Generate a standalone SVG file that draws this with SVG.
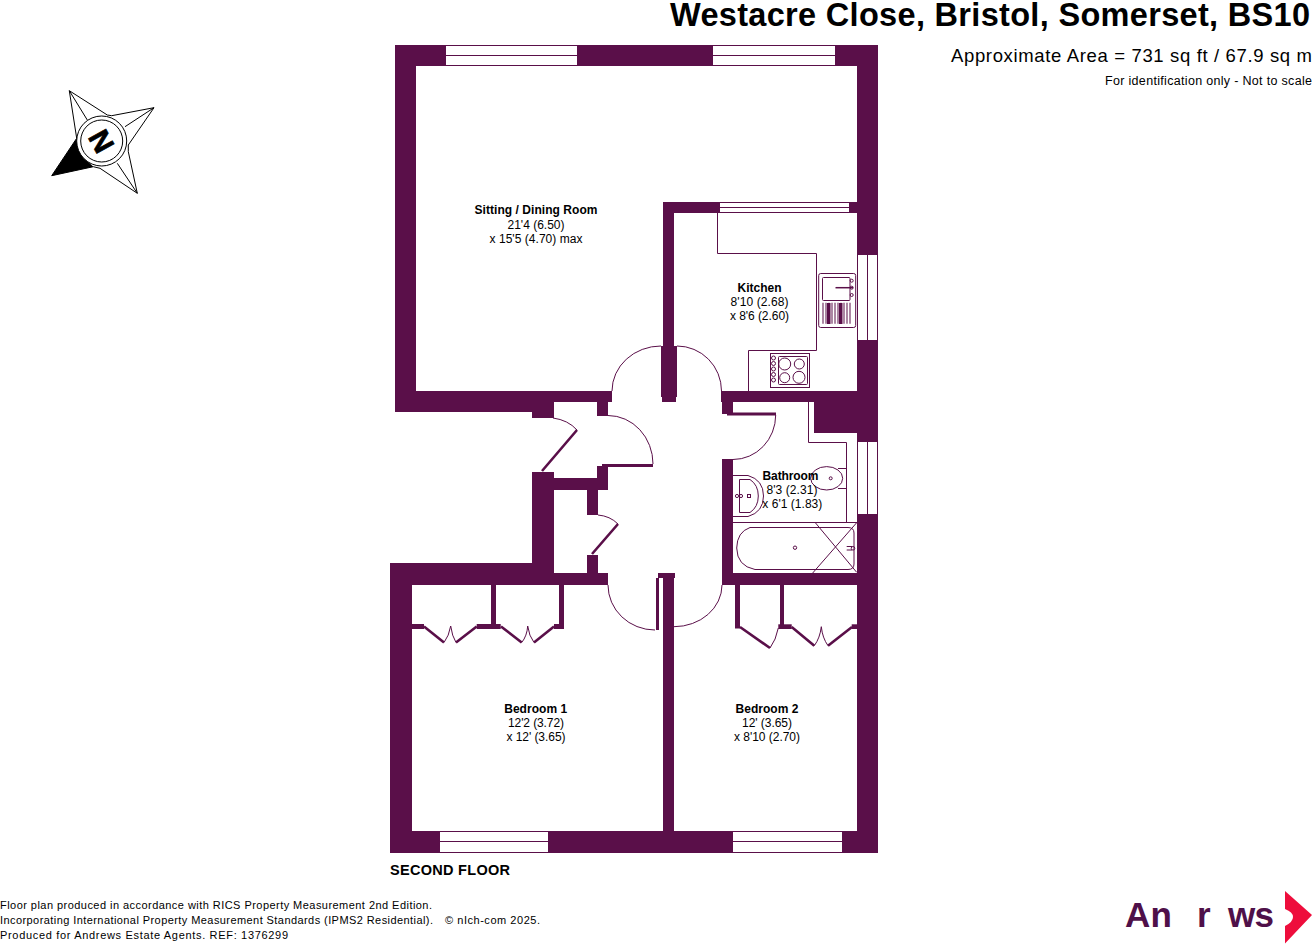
<svg xmlns="http://www.w3.org/2000/svg" width="1313" height="944" viewBox="0 0 1313 944">
<style>
text{font-family:"Liberation Sans",Arial,sans-serif;fill:#000}
.b{font-weight:700}
.r{font-size:12px;text-anchor:middle}
.f{font-size:11px}
.w{fill:#5a0f49;stroke:none}
.l{fill:none;stroke:#5a0f49;stroke-width:1}
.lf{fill:none;stroke:#5a0f49;stroke-width:2.6}
.win{fill:#fff;stroke:none}
.k{fill:#fff;stroke:#000;stroke-width:1}
.logo{font-size:35px;font-weight:700;fill:#4f1049}
</style>
<rect width="1313" height="944" fill="#fff"/>
<g id="header">
<text class="b" x="670" y="26" font-size="32.5" textLength="640">Westacre Close, Bristol, Somerset, BS10</text>
<text x="951" y="62" font-size="18.5" textLength="361">Approximate Area = 731 sq ft / 67.9 sq m</text>
<text x="1105" y="85" font-size="12.5" textLength="207">For identification only - Not to scale</text>
</g>
<g id="compass">
<path class="k" d="M69.3 90.7L107.3 115L111.7 115.7L154 107.7L128.3 145L128.3 151.7L137.3 193.3L100 168.3L93.3 166.7L51.7 175.7L76.7 138.3Z"/>
<path class="k" fill="none" d="M69.3 90.7L87.3 120M154 107.7L125 126.7M137.3 193.3L117.3 163.3"/>
<path d="M51.7 175.7L76.7 138.3Q80 156 93.3 166.7Z" fill="#000"/>
<circle class="k" cx="101.7" cy="141" r="25"/>
<circle class="k" cx="101.7" cy="141" r="21"/>
<text class="b" x="0" y="0" font-size="29" text-anchor="middle" stroke="#000" stroke-width="0.7" transform="translate(101.7 141) rotate(61) translate(0 10.4)">N</text>
</g>
<g id="walls">
<rect class="w" x="395" y="45" width="483" height="21"/>
<rect class="w" x="395" y="45" width="21" height="367"/>
<rect class="w" x="395" y="391" width="217" height="11"/>
<rect class="w" x="395" y="402" width="159" height="10"/>
<rect class="w" x="532" y="402" width="22" height="16"/>
<rect class="w" x="597" y="402" width="11" height="14"/>
<rect class="w" x="857" y="45" width="21" height="209"/>
<rect class="w" x="857" y="341" width="21" height="100"/>
<rect class="w" x="857" y="515" width="21" height="338"/>
<rect class="w" x="663" y="202" width="57" height="11"/>
<rect class="w" x="849" y="202" width="8" height="11"/>
<rect class="w" x="663" y="202" width="11" height="144"/>
<rect class="w" x="661" y="346" width="16" height="51"/>
<rect class="w" x="662" y="397" width="14" height="5"/>
<rect class="w" x="721" y="391" width="157" height="11"/>
<rect class="w" x="722" y="402" width="11" height="12"/>
<rect class="w" x="814" y="402" width="64" height="31"/>
<rect class="w" x="727" y="412.5" width="49" height="3"/>
<rect class="w" x="722" y="459" width="11" height="126"/>
<rect class="w" x="722" y="573" width="156" height="12"/>
<rect class="w" x="532" y="472" width="22" height="113"/>
<rect class="w" x="554" y="478" width="54" height="12"/>
<rect class="w" x="597" y="466" width="11" height="24"/>
<rect class="w" x="602" y="464" width="51" height="3"/>
<rect class="w" x="587" y="490" width="11" height="25"/>
<rect class="w" x="587" y="555" width="11" height="18"/>
<rect class="w" x="554" y="573" width="54" height="12"/>
<rect class="w" x="390" y="563" width="142" height="22"/>
<rect class="w" x="390" y="563" width="22" height="290"/>
<rect class="w" x="390" y="831" width="488" height="22"/>
<rect class="w" x="663" y="578" width="11" height="253"/>
<rect class="w" x="658" y="573" width="17" height="5"/>
<rect class="w" x="656" y="578" width="3" height="52"/>
</g>
<g id="windows">
<rect class="win" x="446" y="45" width="131" height="21"/>
<rect class="win" x="713" y="45" width="122" height="21"/>
<rect class="win" x="720" y="202" width="129" height="11"/>
<rect class="win" x="857" y="254" width="21" height="87"/>
<rect class="win" x="857" y="441" width="21" height="74"/>
<rect class="win" x="440" y="831" width="108" height="22"/>
<rect class="win" x="733" y="831" width="109" height="22"/>
<path class="l" d="M446 45.5H577M446 55.5H577M446 65.5H577M713 45.5H835M713 55.5H835M713 65.5H835M720 202.5H849M720 207.5H849M720 212.5H849M857.5 254V341M867.5 254V341M877.5 254V341M857.5 441V515M867.5 441V515M877.5 441V515M857 254.5H878M857 340.5H878M857 441.5H878M857 514.5H878M440 831.5H548M440 841.5H548M440 852.5H548M733 831.5H842M733 841.5H842M733 852.5H842"/>
</g>
<g id="doors">
<path class="l" d="M612 391A49 45 0 0 1 661 346M677 346A44.5 45 0 0 1 721.5 391M608 415.5A45 48.5 0 0 1 653 464M733 459.5A42.7 44.5 0 0 0 775.7 415M608 585A47 45 0 0 0 655 630M674 626.7A48 41.7 0 0 0 722 585"/>
<path class="l" d="M553 418Q568 420 577 430M598 515Q610 516 618 524"/>
<path class="lf" d="M577 430L542 471M618 524L592 554"/>
</g>
<g id="wardrobes">
<rect class="w" x="412" y="624" width="12" height="5"/>
<rect class="w" x="476.7" y="624" width="24" height="5"/>
<rect class="w" x="491" y="585" width="5" height="40"/>
<rect class="w" x="554" y="624" width="10" height="5"/>
<rect class="w" x="559" y="585" width="5" height="44"/>
<rect class="w" x="735" y="585" width="5" height="43.5"/>
<rect class="w" x="780" y="585" width="4" height="41"/>
<rect class="w" x="778.3" y="624.3" width="13.4" height="4.7"/>
<rect class="w" x="851.7" y="624.3" width="6" height="4.7"/>
<path class="lf" d="M424 626.5L444 642.5M456 642.5L476.7 626.5M501 626.5L521.7 642.5M534 642.5L554 626.5M740 627L770 648M791.7 627L814.3 645.7M828 645.7L852 627"/>
<path class="l" d="M444 642.5Q449 636 450.7 626Q452 636 456 642.5M521.7 642.5Q527 636 527.7 626Q529 636 534 642.5M770 648Q776 640 778.3 628M814.3 645.7Q820 638 821.3 626.7Q822.5 638 828 645.7"/>
</g>
<g id="kitchen-fittings">
<path class="l" d="M717.5 213V253.5H816.5V350.5H748.5V391"/>
<rect class="l" x="818.7" y="273.5" width="37" height="54" rx="2"/>
<rect class="l" x="822.5" y="277.5" width="27.5" height="23" rx="1"/>
<path class="lf" d="M835.5 287.7H853" style="stroke-width:1.5"/>
<circle class="l" cx="851.7" cy="280.7" r="1.5"/>
<circle class="l" cx="851.7" cy="287.7" r="1.5"/>
<circle class="l" cx="851.7" cy="295" r="1.5"/>
<path d="M822.5 313.3H851.5" fill="none" stroke="#5a0f49" stroke-width="21" stroke-dasharray="1 2"/>
<rect class="w" x="827" y="303" width="3.5" height="21"/>
<rect class="w" x="839" y="303" width="3.5" height="21"/>
<rect class="l" x="770.5" y="353.5" width="39" height="34"/>
<rect class="l" x="778.5" y="356.5" width="29" height="28" rx="1"/>
<circle class="l" cx="784.7" cy="364" r="6"/>
<circle class="l" cx="799.3" cy="364" r="5"/>
<circle class="l" cx="784.7" cy="377.7" r="5"/>
<circle class="l" cx="799" cy="377.3" r="6"/>
<circle class="l" cx="773.5" cy="358" r="2"/>
<circle class="l" cx="773.5" cy="363.5" r="2"/>
<circle class="l" cx="773.5" cy="369" r="2"/>
<circle class="l" cx="773.5" cy="374.5" r="2"/>
<circle class="l" cx="773.5" cy="380" r="2"/>
</g>
<g id="bathroom-fittings">
<path class="l" d="M808.5 402V442.5H846.5V522.5M733 522.5H857"/>
<path class="l" d="M750 527.5H848Q854 527.5 854 533V564Q854 569.5 848 569.5H755Q737 566 736.7 548Q737 532 750 527.5Z"/>
<path class="l" d="M815.3 522.7L856.7 572.3M856.7 522.7L812.7 573"/>
<circle class="l" cx="795" cy="547.7" r="1.7"/>
<path class="l" d="M846.7 546.5H852M846.7 550H852"/>
<circle class="l" cx="853" cy="548.3" r="1.8"/>
<ellipse class="l" cx="826.7" cy="478.3" rx="16" ry="11.7"/>
<path class="l" d="M838 468.5H846.5M838 488.5H846.5"/>
<circle class="l" cx="830.7" cy="478.3" r="1.5"/>
<path class="l" d="M733 475.5H748Q763.5 480 763.5 496Q763.5 512 748 516.5H733M739.5 479.5H750Q758.3 485 758.3 496Q758.3 507 750 512.5H739.5Z"/>
<circle class="l" cx="737" cy="496" r="1.6"/>
<circle class="l" cx="741" cy="496" r="1.6"/>
<rect class="l" x="747.5" y="494.5" width="3" height="3"/>
</g>
<g id="labels">
<g id="sitting"><text class="r b" x="536" y="214" textLength="123">Sitting / Dining Room</text><text class="r" x="536" y="228.5" textLength="57">21'4 (6.50)</text><text class="r" x="536" y="242.5" textLength="93">x 15'5 (4.70) max</text></g>
<g id="kitchen"><text class="r b" x="759.5" y="291.5" textLength="44">Kitchen</text><text class="r" x="759.5" y="305.5" textLength="58">8'10 (2.68)</text><text class="r" x="759.5" y="319.5" textLength="59">x 8'6 (2.60)</text></g>
<g id="bathroom"><text class="r b" x="790.5" y="480" textLength="56">Bathroom</text><text class="r" x="792" y="494" textLength="51">8'3 (2.31)</text><text class="r" x="792.3" y="508" textLength="60">x 6'1 (1.83)</text></g>
<g id="bedroom1"><text class="r b" x="535.7" y="712.5" textLength="63">Bedroom 1</text><text class="r" x="536" y="726.5" textLength="56">12'2 (3.72)</text><text class="r" x="536" y="740.5" textLength="59">x 12' (3.65)</text></g>
<g id="bedroom2"><text class="r b" x="767" y="712.5" textLength="63">Bedroom 2</text><text class="r" x="767" y="726.5" textLength="50">12' (3.65)</text><text class="r" x="767" y="740.5" textLength="66">x 8'10 (2.70)</text></g>
<text class="b" x="390" y="875" font-size="14.5" textLength="120">SECOND FLOOR</text>
</g>
<g id="footer">
<text class="f" x="0" y="909" textLength="432">Floor plan produced in accordance with RICS Property Measurement 2nd Edition.</text>
<text class="f" x="0" y="924" textLength="433">Incorporating International Property Measurement Standards (IPMS2 Residential).</text>
<text class="f" x="445" y="924" textLength="95">© nIch-com 2025.</text>
<text class="f" x="0" y="939" textLength="288">Produced for Andrews Estate Agents.   REF: 1376299</text>
</g>
<g id="logo">
<text class="logo" x="1125" y="926.7" textLength="47">An</text>
<text class="logo" x="1197" y="926.7">r</text>
<text class="logo" x="1228" y="926.7" textLength="46">ws</text>
<path d="M1285 891L1312 915L1285 943.5V926Q1293 922 1293 917Q1293 912 1285 909Z" fill="#ee0d3c"/>
</g>
</svg>
